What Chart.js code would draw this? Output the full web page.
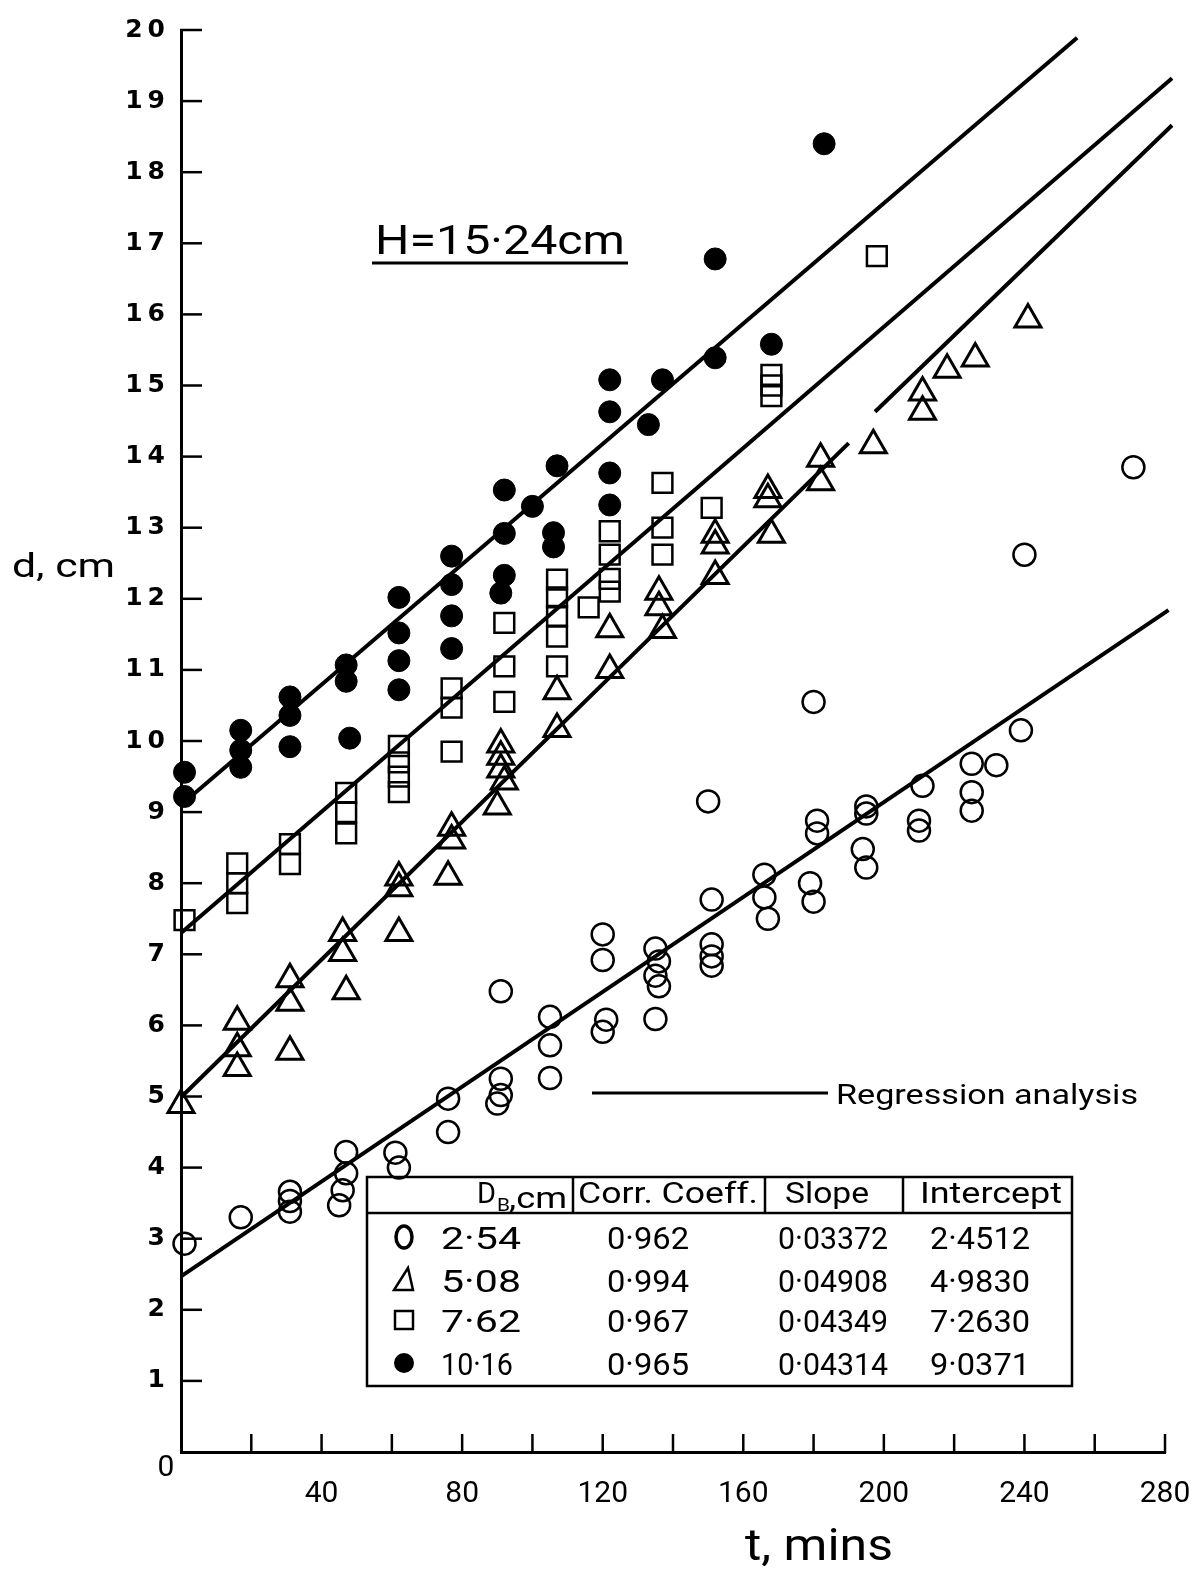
<!DOCTYPE html>
<html><head><meta charset="utf-8">
<script src="https://cdn.jsdelivr.net/npm/chart.js@4/dist/chart.umd.min.js"></script>
<style>html,body{margin:0;padding:0;background:#fff}</style>
</head><body>
<canvas id="c" width="1192" height="1574"></canvas>
<script>
// ---------- DATA ----------
// D_B = 2.54 cm (open circles)
const circleT = [1, 17, 31, 31, 31, 47, 47, 46, 45, 61, 62, 76, 76, 91, 91, 91, 90, 105, 105, 105, 120, 120, 121, 120, 135, 136, 135, 136, 135, 150, 151, 151, 151, 151, 166, 166, 167, 180, 181, 181, 179, 180, 195, 195, 194, 195, 211, 210, 210, 225, 225, 225, 232, 239, 240, 271];
const circleD = [2.93, 3.3, 3.66, 3.53, 3.38, 4.22, 3.92, 3.68, 3.47, 4.21, 4.0, 4.97, 4.5, 6.48, 5.25, 5.02, 4.9, 6.12, 5.72, 5.26, 7.28, 6.92, 6.08, 5.91, 7.08, 6.9, 6.7, 6.55, 6.09, 9.15, 7.77, 7.14, 6.97, 6.84, 8.12, 7.8, 7.5, 10.55, 8.88, 8.7, 8.0, 7.74, 9.08, 8.98, 8.48, 8.22, 9.37, 8.88, 8.74, 9.68, 9.28, 9.02, 9.66, 10.15, 12.62, 13.85];
// D_B = 5.08 cm (triangles)
const triT = [0, 16, 16, 16, 31, 31, 31, 46, 46, 47, 62, 62, 62, 77, 77, 76, 91, 91, 91, 92, 90, 107, 107, 122, 122, 136, 136, 137, 152, 152, 152, 167, 167, 168, 182, 182, 197, 211, 211, 218, 226, 241];
const triD = [4.88, 6.05, 5.68, 5.4, 6.65, 6.32, 5.63, 7.3, 7.02, 6.48, 8.08, 7.93, 7.3, 8.78, 8.6, 8.09, 9.95, 9.78, 9.6, 9.43, 9.08, 10.7, 10.17, 11.57, 11.0, 12.1, 11.88, 11.56, 12.9, 12.75, 12.32, 13.53, 13.4, 12.9, 13.97, 13.64, 14.16, 14.9, 14.63, 15.22, 15.38, 15.93];
// D_B = 7.62 cm (squares)
const squareT = [1, 16, 16, 16, 31, 31, 47, 47, 47, 62, 62, 62, 62, 77, 77, 77, 92, 92, 92, 107, 107, 107, 107, 107, 116, 122, 122, 122, 122, 137, 137, 137, 151, 168, 168, 168, 198];
const squareD = [7.48, 8.28, 8.0, 7.72, 8.55, 8.27, 9.27, 9.0, 8.7, 9.93, 9.7, 9.5, 9.28, 10.74, 10.47, 9.85, 11.66, 11.05, 10.55, 12.27, 12.02, 11.76, 11.47, 11.05, 11.88, 12.95, 12.62, 12.28, 12.1, 13.63, 13.0, 12.62, 13.28, 15.15, 15.0, 14.85, 16.82];
// D_B = 10.16 cm (filled circles)
const filledT = [1, 1, 17, 17, 17, 31, 31, 31, 47, 47, 48, 62, 62, 62, 62, 77, 77, 77, 77, 92, 92, 92, 91, 100, 107, 106, 106, 122, 122, 122, 122, 133, 137, 152, 152, 168, 183];
const filledD = [9.56, 9.22, 10.15, 9.87, 9.63, 10.62, 10.36, 9.92, 11.07, 10.84, 10.04, 12.02, 11.52, 11.13, 10.72, 12.6, 12.2, 11.76, 11.3, 13.53, 12.92, 12.33, 12.08, 13.3, 13.87, 12.93, 12.73, 15.08, 14.63, 13.77, 13.32, 14.45, 15.08, 16.78, 15.39, 15.58, 18.4];

// Regression lines (end points; null = break in the drawn line)
const lineCircleT = [0, 281];
const lineCircleD = [2.47, 11.84];
const lineTriT = [0, 190, 194, 197.5, 282];
const lineTriD = [4.99, 14.19, null, 14.63, 18.66];
const lineSquareT = [0, 282];
const lineSquareD = [7.3, 19.32];
const lineFilledT = [0, 255];
const lineFilledD = [9.1, 19.89];

// Table
const tableHeader = ['Corr. Coeff.', 'Slope', 'Intercept'];
const tableDiam = ['2·54', '5·08', '7·62', '10·16'];
const tableCorr = ['0·962', '0·994', '0·967', '0·965'];
const tableSlope = ['0·03372', '0·04908', '0·04349', '0·04314'];
const tableIntercept = ['2·4512', '4·9830', '7·2630', '9·0371'];

const xMin = 0, xMax = 280, xStep = 20, xLabelEvery = 40;
const yMin = 0, yMax = 20, yStep = 1;

// ---------- helpers ----------
const pts = (T, D) => T.map((t, i) => ({x: t, y: D[i]}));
const TXT = "Roboto, 'DejaVu Sans', sans-serif";

function fitText(ctx, text, x, base, w, font) {
  ctx.font = font;
  const m = ctx.measureText(text).width;
  ctx.save();
  ctx.translate(x, base);
  ctx.scale(w / m, 1);
  ctx.textAlign = 'left';
  ctx.textBaseline = 'alphabetic';
  ctx.fillText(text, 0, 0);
  ctx.restore();
}
function line(ctx, x1, y1, x2, y2, w) {
  ctx.lineWidth = w;
  ctx.beginPath(); ctx.moveTo(x1, y1); ctx.lineTo(x2, y2); ctx.stroke();
}

const annot = {
  id: 'annot',
  afterDraw(chart) {
    const {ctx} = chart;
    const xs = chart.scales.x, ys = chart.scales.y;
    const L = chart.chartArea.left, B = chart.chartArea.bottom;
    ctx.save();
    ctx.strokeStyle = '#000'; ctx.fillStyle = '#000'; ctx.lineCap = 'butt';
    // inward tick marks
    xs.ticks.forEach(t => { if (t.value > 0) { const p = xs.getPixelForValue(t.value); line(ctx, p, B + 1, p, B - 18, 2.5); } });
    ys.ticks.forEach(t => { if (t.value > 0) { const p = ys.getPixelForValue(t.value); line(ctx, L - 1, p, L + 21, p, 2.5); } });
    // origin label
    ctx.font = "30px " + TXT; ctx.textAlign = 'center'; ctx.textBaseline = 'middle';
    ctx.fillText('0', L - 15, B + 16);
    // axis titles
    fitText(ctx, 'd, cm', 12, 577, 103, "34px " + TXT);
    fitText(ctx, 't, mins', 745, 1560, 148, "44px " + TXT);
    // H label
    fitText(ctx, 'H=15·24cm', 375, 254, 250, "40px " + TXT);
    line(ctx, 372, 263, 628, 263, 3);
    // regression legend
    line(ctx, 592, 1093, 828, 1093, 3);
    fitText(ctx, 'Regression analysis', 836, 1104, 302, "28px " + TXT);
    // table
    const tl = 367, tr = 1072, tt = 1177, th = 1213, tb = 1386;
    ctx.lineWidth = 2.5;
    ctx.strokeRect(tl, tt, tr - tl, tb - tt);
    line(ctx, tl, th, tr, th, 2.5);
    [573, 765, 903].forEach(xv => line(ctx, xv, tt, xv, th, 2.5));
    // header
    fitText(ctx, 'D', 477, 1203, 19, "30px " + TXT);
    fitText(ctx, 'B', 497, 1211, 13, "19px " + TXT);
    fitText(ctx, ',cm', 509, 1208, 58, "29px " + TXT);
    const hx = [[578, 180], [785, 84], [920, 142]];
    tableHeader.forEach((h, i) => fitText(ctx, h, hx[i][0], 1203, hx[i][1], "29px " + TXT));
    const rowY = [1237, 1280, 1320, 1363];
    const colX = [[441, 80], [607, 82], [778, 110], [930, 100]];
    rowY.forEach((ry, i) => {
      const vals = [tableDiam[i], tableCorr[i], tableSlope[i], tableIntercept[i]];
      vals.forEach((s, j) => {
        const w = (j === 0 && i === 3) ? 72 : colX[j][1];
        fitText(ctx, s, colX[j][0], ry + 12, w, "32px " + TXT);
      });
      const sx = 404;
      ctx.lineWidth = 3.5;
      if (i === 0) { ctx.beginPath(); ctx.ellipse(sx, ry, 8, 11, 0, 0, Math.PI * 2); ctx.stroke(); }
      if (i === 1) { ctx.beginPath(); ctx.moveTo(sx + 4, ry - 12); ctx.lineTo(sx - 10, ry + 10); ctx.lineTo(sx + 9, ry + 10); ctx.closePath(); ctx.lineWidth = 2.5; ctx.stroke(); }
      if (i === 2) { ctx.lineWidth = 2.5; ctx.strokeRect(sx - 9, ry - 9, 18, 18); }
      if (i === 3) { ctx.beginPath(); ctx.arc(sx, ry, 10, 0, Math.PI * 2); ctx.fill(); }
    });
    ctx.restore();
  }
};

const markerBase = {borderColor: '#000', showLine: false, clip: false};
new Chart(document.getElementById('c').getContext('2d'), {
  type: 'scatter',
  data: {
    datasets: [
      {...markerBase, data: pts(circleT, circleD), pointStyle: 'circle', pointRadius: 11, pointBorderWidth: 2.5, backgroundColor: 'rgba(0,0,0,0)'},
      {...markerBase, data: pts(triT, triD), pointStyle: 'triangle', pointRadius: 15, pointBorderWidth: 3, backgroundColor: 'rgba(0,0,0,0)'},
      {...markerBase, data: pts(squareT, squareD), pointStyle: 'rect', pointRadius: 14, pointBorderWidth: 2.5, backgroundColor: 'rgba(0,0,0,0)'},
      {...markerBase, data: pts(filledT, filledD), pointStyle: 'circle', pointRadius: 11, pointBorderWidth: 1, backgroundColor: '#000'},
      {data: pts(lineCircleT, lineCircleD), showLine: true, pointRadius: 0, borderColor: '#000', borderWidth: 4, spanGaps: false, clip: false},
      {data: pts(lineTriT, lineTriD), showLine: true, pointRadius: 0, borderColor: '#000', borderWidth: 4, spanGaps: false, clip: false},
      {data: pts(lineSquareT, lineSquareD), showLine: true, pointRadius: 0, borderColor: '#000', borderWidth: 4, spanGaps: false, clip: false},
      {data: pts(lineFilledT, lineFilledD), showLine: true, pointRadius: 0, borderColor: '#000', borderWidth: 4, spanGaps: false, clip: false}
    ]
  },
  options: {
    responsive: false, animation: false, devicePixelRatio: 1,
    layout: {padding: {top: 30, right: 27, left: 0, bottom: 0}},
    plugins: {legend: {display: false}, tooltip: {enabled: false}},
    scales: {
      x: {
        type: 'linear', min: xMin, max: xMax,
        afterFit(s) { s.height = 122; s.paddingLeft = 0; s.paddingRight = 0; },
        ticks: {stepSize: xStep, autoSkip: false, maxRotation: 0, padding: 24, color: '#000',
          font: {family: TXT, size: 30},
          callback: v => (v > 0 && v % xLabelEvery === 0) ? String(v) : ''},
        grid: {display: false, drawTicks: false},
        border: {display: true, color: '#000', width: 3}
      },
      y: {
        type: 'linear', min: yMin, max: yMax,
        afterFit(s) { s.width = 181; s.paddingTop = 0; s.paddingBottom = 0; },
        ticks: {stepSize: yStep, autoSkip: false, padding: 16, color: '#000',
          font: {family: "'DejaVu Sans', sans-serif", size: 25, weight: 'bold'},
          callback: v => v > 0 ? String(v).split('').join('\u2009') : ''},
        grid: {display: false, drawTicks: false},
        border: {display: true, color: '#000', width: 3}
      }
    }
  },
  plugins: [annot]
});
</script>
</body></html>
